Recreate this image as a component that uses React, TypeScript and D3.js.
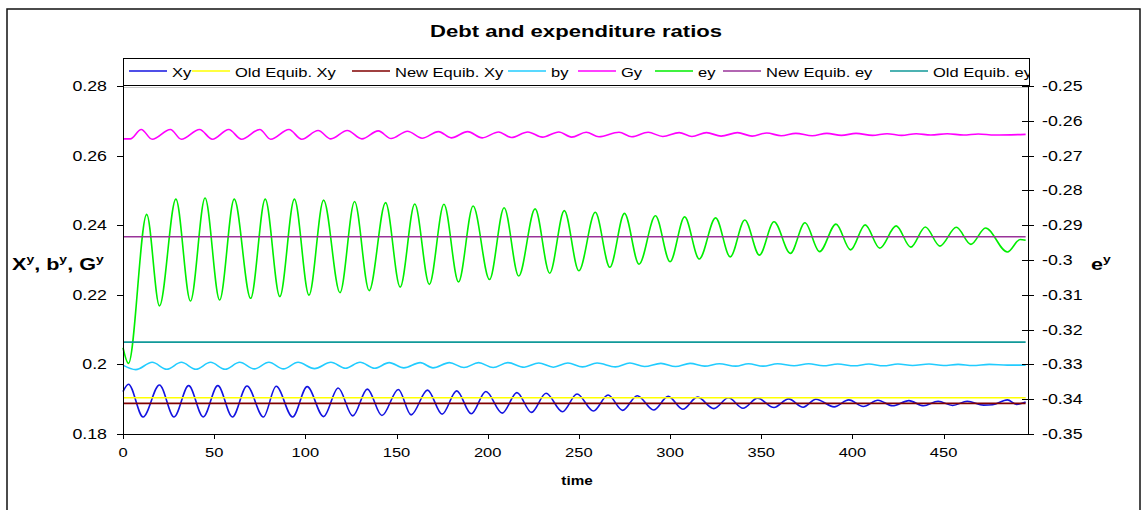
import React from "react";
import * as d3 from "d3";

type P = [number, number];

// ---------- data ----------
const xTickValues = [0, 50, 100, 150, 200, 250, 300, 350, 400, 450];
const leftTickValues = [0.18, 0.2, 0.22, 0.24, 0.26, 0.28];
const rightTickValues = [-0.35, -0.34, -0.33, -0.32, -0.31, -0.3, -0.29, -0.28, -0.27, -0.26, -0.25];
const seriesNames = ["Xy", "Old Equib. Xy", "New Equib. Xy", "by", "Gy", "ey", "New Equib. ey", "Old Equib. ey"];
const timeRange: P = [0, 495];
const xDomainMax = 496.3;

const oldEquibXy = 0.1904;
const newEquibXy = 0.1888;
const newEquibEy = -0.2933;
const oldEquibEy = -0.3236;

// Xy (left axis): turning points
const xy: P[] = [
  [0, 0.1922], [3, 0.1943], [11, 0.1849], [20, 0.1941], [28, 0.1849], [36, 0.1939], [44, 0.1849], [52, 0.1939],
  [60, 0.1849], [68, 0.1938], [77, 0.1849], [84, 0.1937], [93, 0.1849], [101, 0.1936], [110, 0.185], [118, 0.1932],
  [126, 0.1852], [134, 0.1929], [142, 0.1853], [151, 0.1928], [158, 0.1855], [167, 0.1926], [175, 0.1857], [183, 0.1924],
  [191, 0.1858], [199, 0.1922], [208, 0.186], [216, 0.1919], [224, 0.1862], [232, 0.1917], [241, 0.1864], [249, 0.1915],
  [258, 0.1866], [266, 0.1912], [274, 0.1868], [282, 0.191], [291, 0.1869], [299, 0.1908], [307, 0.1871], [315, 0.1906],
  [324, 0.1873], [332, 0.1904], [340, 0.1874], [348, 0.1903], [357, 0.1876], [365, 0.1901], [373, 0.1877], [380, 0.19],
  [390, 0.1878], [398, 0.1898], [406, 0.1879], [414, 0.1897], [422, 0.1881], [431, 0.1896], [439, 0.1881], [447, 0.1894],
  [455, 0.1882], [463, 0.1894], [472, 0.1883], [477, 0.1884], [485, 0.1898], [490, 0.1885], [495, 0.1892],
];

// by (left axis)
const by: P[] = [
  [0, 0.1998], [7, 0.1985], [16, 0.2006], [24, 0.1986], [32, 0.2006], [40, 0.1986], [48, 0.2006], [56, 0.1986],
  [64, 0.2006], [72, 0.1987], [80, 0.2006], [88, 0.1987], [96, 0.2006], [105, 0.1988], [114, 0.2006], [122, 0.1989],
  [130, 0.2006], [138, 0.1989], [146, 0.2005], [154, 0.199], [163, 0.2005], [170, 0.199], [179, 0.2005], [187, 0.1991],
  [195, 0.2005], [203, 0.1991], [211, 0.2005], [220, 0.1992], [228, 0.2004], [236, 0.1992], [244, 0.2004], [252, 0.1993],
  [260, 0.2004], [270, 0.1993], [278, 0.2004], [286, 0.1994], [295, 0.2003], [303, 0.1994], [311, 0.2003], [319, 0.1995],
  [327, 0.2002], [336, 0.1995], [343, 0.2002], [351, 0.1995], [359, 0.2002], [368, 0.1996], [376, 0.2002], [384, 0.1996],
  [392, 0.2001], [401, 0.1996], [409, 0.2001], [417, 0.1996], [425, 0.2001], [433, 0.1997], [442, 0.2001], [450, 0.1997],
  [458, 0.2], [466, 0.1997], [475, 0.2], [485, 0.1998], [495, 0.1998],
];

// Gy (left axis)
const gy: P[] = [
  [0, 0.2648], [4, 0.2648], [10, 0.2675], [16, 0.2647], [26, 0.2675], [32, 0.2647], [42, 0.2675], [49, 0.2647],
  [58, 0.2675], [65, 0.2647], [75, 0.2675], [81, 0.2647], [91, 0.2675], [98, 0.2647], [107, 0.2672], [114, 0.2648],
  [123, 0.2672], [131, 0.2648], [140, 0.2671], [147, 0.2649], [156, 0.267], [164, 0.265], [173, 0.2669], [180, 0.2651],
  [189, 0.2669], [197, 0.2651], [206, 0.2668], [213, 0.2652], [222, 0.2668], [230, 0.2653], [239, 0.2668], [246, 0.2653],
  [254, 0.2667], [261, 0.2654], [272, 0.2667], [279, 0.2654], [288, 0.2667], [296, 0.2655], [305, 0.2666], [312, 0.2655],
  [320, 0.2666], [328, 0.2656], [337, 0.2666], [345, 0.2656], [353, 0.2665], [361, 0.2657], [369, 0.2664], [378, 0.2657],
  [386, 0.2664], [394, 0.2658], [402, 0.2664], [411, 0.2658], [419, 0.2663], [427, 0.2658], [435, 0.2663], [443, 0.2659],
  [452, 0.2663], [461, 0.2659], [469, 0.2662], [478, 0.2659], [495, 0.2661],
];

// ey (right axis)
const ey: P[] = [
  [0, -0.3252], [3, -0.3297], [13, -0.2869], [20, -0.3132], [29, -0.2825], [37, -0.3118], [45, -0.2822], [53, -0.3115],
  [61, -0.2825], [70, -0.311], [78, -0.2825], [86, -0.3105], [94, -0.2825], [102, -0.3101], [110, -0.2828], [119, -0.3094],
  [127, -0.2832], [135, -0.3088], [144, -0.2835], [152, -0.3078], [160, -0.2839], [168, -0.307], [176, -0.284], [184, -0.3063],
  [192, -0.2845], [201, -0.3056], [209, -0.285], [217, -0.3046], [226, -0.2853], [234, -0.3038], [242, -0.2858], [250, -0.3031],
  [259, -0.2863], [267, -0.3021], [275, -0.2866], [283, -0.3012], [292, -0.2873], [300, -0.3005], [308, -0.2876], [316, -0.2997],
  [325, -0.2879], [333, -0.2991], [341, -0.2885], [349, -0.2986], [357, -0.289], [366, -0.2981], [374, -0.2893], [382, -0.2976],
  [391, -0.2897], [399, -0.2971], [407, -0.2899], [415, -0.2966], [424, -0.2902], [432, -0.2963], [440, -0.2905], [448, -0.296],
  [457, -0.2906], [465, -0.2955], [473, -0.2908], [485, -0.2977], [492, -0.2941], [495, -0.2943],
];

// ---------- layout / style ----------
const W = 1143;
const H = 510;
const plot = { left: 123, right: 1028, top: 86, bottom: 434 };
const SX = 1.27; // horizontal stretch of the original rendering
const FONT = "'Liberation Sans', Arial, Helvetica, sans-serif";
const colors = ["#1414e0", "#ffff00", "#800000", "#22ccff", "#ff00ff", "#00ee00", "#993399", "#119999"];
const legendBox = { x: 123.5, y: 58.5, w: 906, h: 27 };
const legendLineX = [129, 192, 352, 508, 578, 655, 723, 890];
const legendLineLen = 38;

const fmt = (v: number) => String(Number(v.toFixed(2)));

function T(props: {
  x: number;
  y: number;
  anchor?: "start" | "middle" | "end";
  size?: number;
  weight?: string;
  sx?: number;
  children: React.ReactNode;
}) {
  const { x, y, anchor = "start", size = 14, weight = "normal", sx = SX, children } = props;
  return (
    <text
      transform={`translate(${x},${y}) scale(${sx},1)`}
      textAnchor={anchor}
      fontSize={size}
      fontWeight={weight}
      fontFamily={FONT}
      fill="#000"
    >
      {children}
    </text>
  );
}

export default function App() {
  const x = d3.scaleLinear().domain([0, xDomainMax]).range([plot.left, plot.right]);
  const yL = d3.scaleLinear().domain([0.18, 0.28]).range([plot.bottom, plot.top]);
  const yR = d3.scaleLinear().domain([-0.35, -0.25]).range([plot.bottom, plot.top]);
  const lineL = d3.line<P>().x((d) => x(d[0])).y((d) => yL(d[1])).curve(d3.curveMonotoneX);
  const lineR = d3.line<P>().x((d) => x(d[0])).y((d) => yR(d[1])).curve(d3.curveMonotoneX);
  const flat = (v: number): P[] => timeRange.map((t) => [t, v] as P);

  const paths = [
    lineL(xy),
    lineL(flat(oldEquibXy)),
    lineL(flat(newEquibXy)),
    lineL(by),
    lineL(gy),
    lineR(ey),
    lineR(flat(newEquibEy)),
    lineR(flat(oldEquibEy)),
  ];

  return (
    <svg
      width={W}
      height={H}
      style={{ position: "absolute", left: 0, top: 0, background: "#fff" }}
    >
      <rect x={0} y={0} width={W} height={H} fill="#fff" />
      {/* outer frame */}
      <rect x={7} y={9} width={1133} height={H} fill="none" stroke="#111" strokeWidth={1.5} />

      {/* title */}
      <T x={576} y={37} anchor="middle" size={17} weight="bold" sx={1.3}>
        Debt and expenditure ratios
      </T>

      {/* plot top border */}
      <line x1={plot.left} x2={plot.right} y1={plot.top + 1.5} y2={plot.top + 1.5} stroke="#c8c8c8" strokeWidth={1} />

      {/* series */}
      <g fill="none" strokeWidth={1.6} strokeLinejoin="round">
        {paths.map((d, i) => (
          <path key={seriesNames[i]} d={d || ""} stroke={colors[i]} />
        ))}
      </g>

      {/* axes */}
      <g stroke="#000" strokeWidth={1}>
        <line x1={plot.left + 0.5} x2={plot.left + 0.5} y1={plot.top} y2={plot.bottom + 5} />
        <line x1={plot.right + 0.5} x2={plot.right + 0.5} y1={plot.top} y2={plot.bottom} />
        <line x1={plot.left} x2={plot.right + 1} y1={plot.bottom + 0.5} y2={plot.bottom + 0.5} />
        {leftTickValues.map((v) => (
          <line key={"lt" + v} x1={plot.left - 6} x2={plot.left} y1={Math.round(yL(v)) + 0.5} y2={Math.round(yL(v)) + 0.5} />
        ))}
        {rightTickValues.map((v) => (
          <line key={"rt" + v} x1={plot.right - 6} x2={plot.right + 6} y1={Math.round(yR(v)) + 0.5} y2={Math.round(yR(v)) + 0.5} />
        ))}
        {xTickValues.map((v) => (
          <line key={"xt" + v} x1={Math.round(x(v)) + 0.5} x2={Math.round(x(v)) + 0.5} y1={plot.bottom} y2={plot.bottom + 5} />
        ))}
      </g>

      {/* tick labels */}
      {leftTickValues.map((v) => (
        <T key={"ll" + v} x={107} y={yL(v) + 5} anchor="end" size={14}>
          {fmt(v)}
        </T>
      ))}
      {rightTickValues.map((v) => (
        <T key={"rl" + v} x={1042} y={yR(v) + 5} anchor="start" size={14}>
          {fmt(v)}
        </T>
      ))}
      {xTickValues.map((v) => (
        <T key={"xl" + v} x={x(v)} y={457} anchor="middle" size={13}>
          {fmt(v)}
        </T>
      ))}

      {/* axis titles */}
      <T x={12} y={270} size={17} weight="bold">
        X<tspan dy={-7} fontSize={11}>y</tspan>
        <tspan dy={7}>, b</tspan>
        <tspan dy={-7} fontSize={11}>y</tspan>
        <tspan dy={7}>, G</tspan>
        <tspan dy={-7} fontSize={11}>y</tspan>
      </T>
      <T x={1091} y={270} size={17} weight="bold">
        e<tspan dy={-7} fontSize={11}>y</tspan>
      </T>
      <T x={577} y={485} anchor="middle" size={12} weight="bold">
        time
      </T>

      {/* legend */}
      <defs>
        <clipPath id="legendClip">
          <rect x={legendBox.x} y={legendBox.y} width={legendBox.w} height={legendBox.h} />
        </clipPath>
      </defs>
      <rect x={legendBox.x} y={legendBox.y} width={legendBox.w} height={legendBox.h} fill="#fff" stroke="#000" strokeWidth={1} />
      <g clipPath="url(#legendClip)">
        {seriesNames.map((name, i) => (
          <g key={"lg" + name}>
            <line
              x1={legendLineX[i]}
              x2={legendLineX[i] + legendLineLen}
              y1={71}
              y2={71}
              stroke={colors[i]}
              strokeWidth={1.6}
            />
            <T x={legendLineX[i] + legendLineLen + 5} y={76.5} size={13}>
              {name}
            </T>
          </g>
        ))}
      </g>
    </svg>
  );
}
